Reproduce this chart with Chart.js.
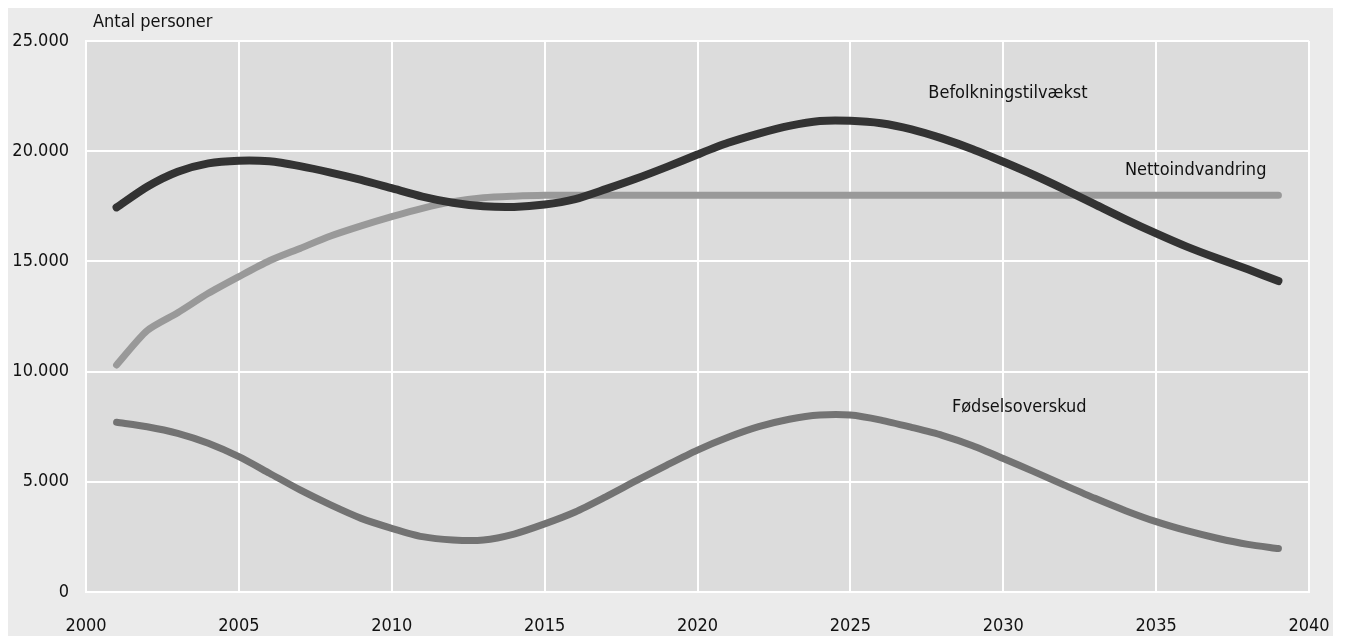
<!DOCTYPE html>
<html>
<head>
<meta charset="utf-8">
<script src="https://cdn.jsdelivr.net/npm/chart.js@4.4.1/dist/chart.umd.min.js"></script>
<style>
  html, body { margin: 0; padding: 0; background: #ffffff; }
  #wrap { width: 1347px; height: 636px; position: relative; }
</style>
</head>
<body>
<div id="wrap"><canvas id="c"></canvas></div>
<script>
const years = [2001,2002,2003,2004,2005,2006,2007,2008,2009,2010,2011,2012,2013,2014,2015,2016,2017,2018,2019,2020,
               2021,2022,2023,2024,2025,2026,2027,2028,2029,2030,2031,2032,2033,2034,2035,2036,2037,2038,2039];

const befolkningstilvaekst = [17450,18390,19070,19450,19570,19540,19320,19030,18700,18320,17940,17660,17500,17470,17580,17830,18280,18760,19290,19850,
                              20380,20800,21150,21370,21380,21270,20990,20580,20090,19520,18920,18270,17590,16910,16270,15670,15140,14640,14110];

const nettoindvandring = [10300,11860,12670,13550,14310,15030,15590,16150,16610,17030,17410,17710,17890,17960,18000,18000,18000,18000,18000,18000,
                          18000,18000,18000,18000,18000,18000,18000,18000,18000,18000,18000,18000,18000,18000,18000,18000,18000,18000,18000];

const foedselsoverskud = [7700,7500,7200,6750,6140,5390,4630,3950,3340,2890,2510,2360,2360,2630,3090,3630,4320,5050,5760,6440,
                          7020,7500,7840,8030,8030,7800,7470,7110,6640,6060,5460,4850,4250,3690,3190,2780,2440,2160,1970];

const xTicks = [2000,2005,2010,2015,2020,2025,2030,2035,2040];
const yTicks = [0,5000,10000,15000,20000,25000];

const seriesLabels = ['Befolkningstilvækst','Nettoindvandring','Fødselsoverskud'];
const axisTitle = 'Antal personer';

const FONT = '"DejaVu Sans Condensed", "Liberation Sans Narrow", sans-serif';
const FSIZE = 18;

function pts(arr) { return years.map((y, i) => ({ x: y, y: arr[i] })); }
function fmt(v) { return v.toLocaleString('de-DE'); }

const bgPlugin = {
  id: 'bg',
  beforeDraw(chart) {
    const { ctx, chartArea } = chart;
    ctx.save();
    ctx.fillStyle = '#ebebeb';
    ctx.fillRect(8, 8, 1325, 628);
    ctx.fillStyle = '#dcdcdc';
    ctx.fillRect(chartArea.left, chartArea.top, chartArea.right - chartArea.left, chartArea.bottom - chartArea.top);
    ctx.restore();
  }
};

const labelPlugin = {
  id: 'labels',
  afterDatasetsDraw(chart) {
    const { ctx, scales, chartArea } = chart;
    const xs = scales.x, ys = scales.y;
    ctx.save();
    ctx.fillStyle = '#111111';
    ctx.font = FSIZE + 'px ' + FONT;
    ctx.textAlign = 'left';
    ctx.textBaseline = 'middle';
    ctx.fillText(seriesLabels[0], xs.getPixelForValue(2027.55), ys.getPixelForValue(22640));
    ctx.fillText(seriesLabels[1], xs.getPixelForValue(2033.98), ys.getPixelForValue(19150));
    ctx.fillText(seriesLabels[2], xs.getPixelForValue(2028.32), ys.getPixelForValue(8400));
    ctx.fillText(axisTitle, chartArea.left + 7, chartArea.top - 19);
    ctx.restore();
  }
};

new Chart(document.getElementById('c'), {
  type: 'line',
  data: {
    datasets: [
      { label: seriesLabels[0], data: pts(befolkningstilvaekst), borderColor: '#333333', borderWidth: 8 },
      { label: seriesLabels[1], data: pts(nettoindvandring), borderColor: '#999999', borderWidth: 7 },
      { label: seriesLabels[2], data: pts(foedselsoverskud), borderColor: '#737373', borderWidth: 7 }
    ]
  },
  options: {
    responsive: true,
    maintainAspectRatio: false,
    animation: false,
    layout: { padding: { left: 0, right: 38, top: 41, bottom: 0 } },
    elements: {
      point: { radius: 0 },
      line: { tension: 0.25, borderCapStyle: 'round', borderJoinStyle: 'round', fill: false }
    },
    plugins: { legend: { display: false }, tooltip: { enabled: false }, title: { display: false } },
    scales: {
      x: {
        type: 'linear',
        min: 2000, max: 2040,
        afterBuildTicks(s) { s.ticks = xTicks.map(v => ({ value: v })); },
        afterFit(s) { s.height = 44; },
        grid: { color: '#ffffff', lineWidth: 2, drawTicks: true, tickLength: 22, tickColor: 'rgba(0,0,0,0)' },
        border: { display: true, color: '#ffffff', width: 2 },
        ticks: { color: '#111111', font: { family: FONT, size: FSIZE }, padding: 2, maxRotation: 0, callback: v => String(v) }
      },
      y: {
        min: 0, max: 25000,
        afterBuildTicks(s) { s.ticks = yTicks.map(v => ({ value: v })); },
        afterFit(s) { s.width = 86; },
        grid: { color: '#ffffff', lineWidth: 2, drawTicks: false },
        border: { display: true, color: '#ffffff', width: 2 },
        ticks: { color: '#111111', font: { family: FONT, size: FSIZE }, padding: 17, callback: v => fmt(v) }
      }
    }
  },
  plugins: [bgPlugin, labelPlugin]
});
</script>
</body>
</html>
